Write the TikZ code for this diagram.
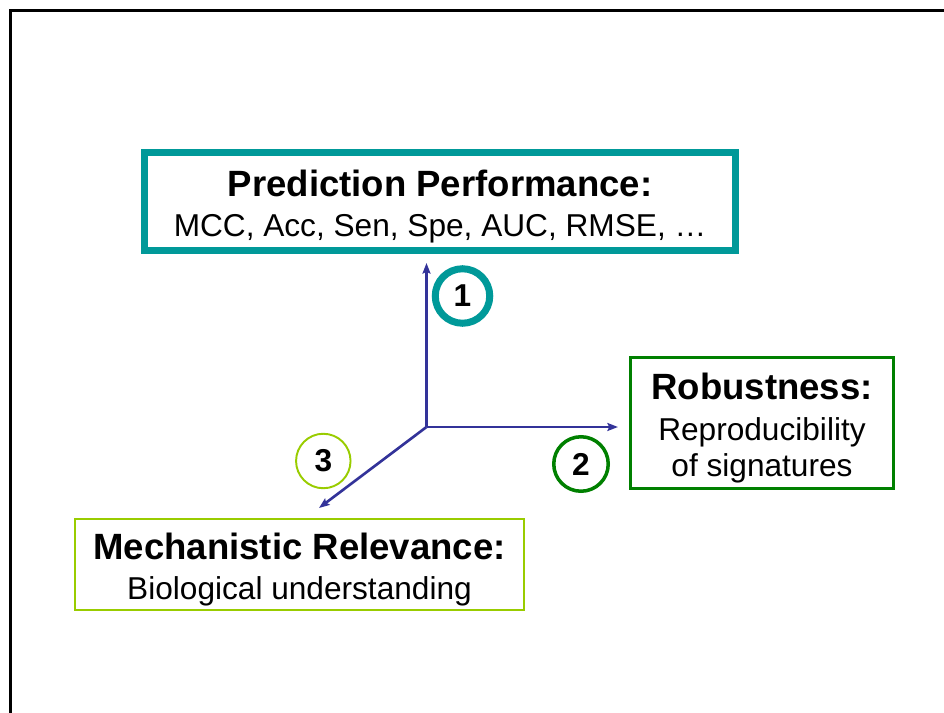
\documentclass[tikz,border=0pt]{standalone}
\usepackage{fontspec}
\setmainfont{Liberation Sans}
\usetikzlibrary{arrows.meta}

\definecolor{tealbox}{RGB}{0,153,153}
\definecolor{darkgreen}{RGB}{0,128,0}
\definecolor{limegreen}{RGB}{153,204,0}
\definecolor{axisblue}{RGB}{51,51,153}

\newcommand{\ttl}{\fontsize{20.8}{23}\selectfont\bfseries\rule{0pt}{21pt}}
\newcommand{\bdy}{\fontsize{18}{20.6}\selectfont}

\tikzset{
    axis/.style={draw=axisblue, line width=1.5pt, -{Stealth[length=6pt, width=4.5pt, inset=1pt]}},
    box/.style={draw, align=center, font=\bdy, inner sep=0pt},
    num/.style={circle, draw, minimum size=1.09cm, inner sep=0pt, font=\bdy\bfseries}
}

\begin{document}
\begin{tikzpicture}[x=0.02cm, y=-0.02cm]
    \useasboundingbox (0,0) rectangle (944,713);
    \draw [line width=1.4pt] (10.3,713) -- (10.3,10.3) -- (944,10.3);

    % the three criteria
    \node [box, draw=tealbox, line width=4pt, minimum width=591*0.02cm, minimum height=98*0.02cm]
        (pred) at (440,201.5) {{\ttl Prediction Performance:}\\[2.3pt] MCC, Acc, Sen, Spe, AUC, RMSE, \dots};
    \node [box, draw=darkgreen, line width=1.7pt, minimum width=263*0.02cm, minimum height=131*0.02cm]
        (robust) at (762,423) {{\ttl Robustness:}\\[2.3pt] Reproducibility\\ of signatures};
    \node [box, draw=limegreen, line width=1.1pt, minimum width=449*0.02cm, minimum height=91*0.02cm]
        (mech) at (299.5,564.5) {{\ttl Mechanistic Relevance:}\\[2.3pt] Biological understanding};

    % axes
    \coordinate (o) at (426.5,427);
    \coordinate (up) at (426.5,263);
    \coordinate (right) at (618,427);
    \coordinate (down) at (319,508);
    \draw [axis] (o) -- (up);
    \draw [axis] (o) -- (right);
    \draw [axis] (o) -- (down);

    \node [num, draw=tealbox, line width=4pt] (one) at (462.5,296) {1};
    \node [num, draw=darkgreen, line width=2pt] (two) at (581,464) {2};
    \node [num, draw=limegreen, line width=1.1pt] (three) at (323.3,461) {3};
\end{tikzpicture}
\end{document}
